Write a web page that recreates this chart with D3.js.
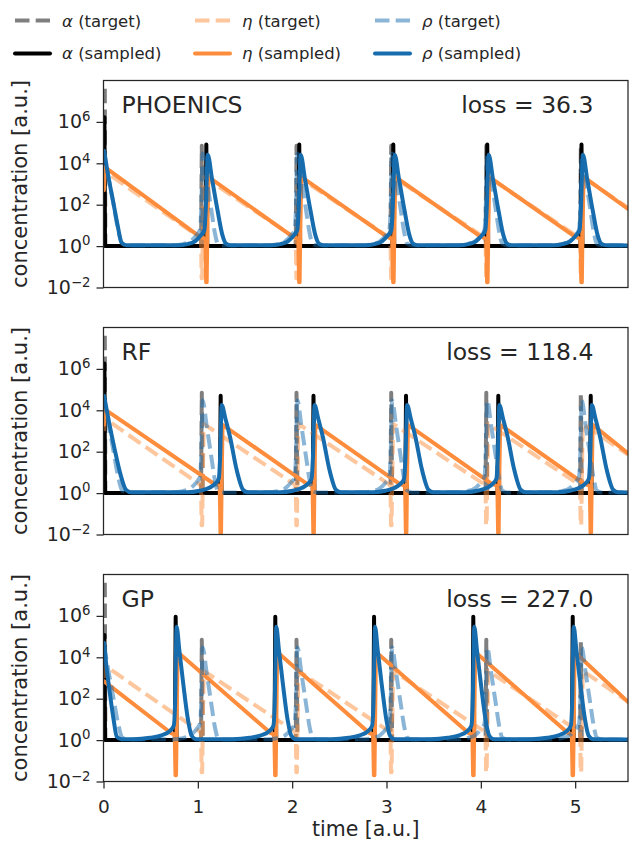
<!DOCTYPE html>
<html>
<head>
<meta charset="utf-8">
<script src="https://cdn.jsdelivr.net/npm/d3@7"></script>
<style>
  html,body{margin:0;padding:0;background:#fff;}
  svg{display:block;}
  text{font-family:"DejaVu Sans",sans-serif;fill:#262626;}
</style>
</head>
<body>
<svg id="fig" width="634" height="846"></svg>
<script>
// ---------------- data ----------------
const panelNames  = ["PHOENICS", "RF", "GP"];
const lossLabels  = ["loss = 36.3", "loss = 118.4", "loss = 227.0"];
const xTickValues = [0, 1, 2, 3, 4, 5];
const yTickValues = [1e-2, 1e0, 1e2, 1e4, 1e6];
const yTickExponents = ["\u22122", "0", "2", "4", "6"];
const timeMax = 5.56;

// spike (event) times
const targetSpikes  = [1.042, 2.046, 3.050, 4.058, 5.060];
const sampledSpikes = [
  [1.090, 2.075, 3.072, 4.068, 5.067],   // PHOENICS
  [1.242, 2.226, 3.207, 4.185, 5.165],   // RF
  [0.765, 1.821, 2.868, 3.920, 4.974]    // GP
];

// alpha  : [time or offset from spike, concentration]
const alphaTargetStart = [[0.014, 4e7], [0.02, 1]];
const alphaTargetPre   = [[-0.008, 1]];
const alphaTargetPost  = [[0, 7e4], [0.01, 1]];
const alphaTargetEnd   = 1;
const alphaSampledStart = [[[0.01, 1.7e6], [0.016, 1]], [[0.01, 1.8e6], [0.016, 1]], [[0.01, 1.2e5], [0.016, 1]]];
const alphaSampledPre   = [[[-0.008, 1]], [[-0.008, 1]], [[-0.008, 1]]];
const alphaSampledPost  = [[[0, 8e4], [0.01, 1]], [[0, 5e4], [0.01, 1]], [[0, 9e5], [0.01, 1]]];
const alphaSampledEnd   = [1, 1, 1];

// eta
const etaTargetStart = [[0.004, 1e3], [0.014, 4e3]];
const etaTargetPre   = [[-0.03, 2.8], [-0.008, 2.2], [-0.002, 0.028]];
const etaTargetPost  = [[0.004, 0.028], [0.01, 3], [0.02, 2.2e3]];
const etaTargetEnd   = 72;
const etaSampledStart = [[[0.004, 500], [0.014, 6.6e3]], [[0.004, 2e3], [0.014, 1.1e4]], [[0.004, 700], [0.014, 650]]];
const etaSampledPre = [
  [[-0.085, 3.2], [-0.01, 2.2], [-0.002, 0.018]],
  [[-0.08, 3.0], [-0.01, 2.2], [-0.002, 0.012]],
  [[-0.05, 2.2], [-0.01, 1.9], [-0.002, 0.02]]
];
const etaSampledPost = [
  [[0.004, 0.018], [0.01, 3], [0.022, 2.2e3]],
  [[0.004, 0.012], [0.01, 3], [0.02, 2e3]],
  [[0.004, 0.02], [0.01, 3], [0.02, 1.8e4]]
];
const etaSampledEnd = [63, 83, 70];

// rho
const rhoTargetStart = [[0.006, 4e4], [0.05, 2.5e3], [0.1, 150], [0.15, 8], [0.2, 1.3], [0.25, 1.08]];
const rhoTargetPre   = [[-0.3, 1.1], [-0.2, 1.25], [-0.12, 1.7], [-0.06, 3.2], [-0.02, 6], [-0.006, 60]];
const rhoTargetPost  = [[0.01, 3e4], [0.05, 2e3], [0.1, 60], [0.14, 4], [0.17, 1.3], [0.22, 1.08]];
const rhoTargetEnd   = 1.06;
const rhoSampledStart = [
  [[0.006, 4e4], [0.05, 2.5e3], [0.1, 160], [0.15, 10], [0.19, 1.5], [0.24, 1.1]],
  [[0.006, 5e4], [0.06, 2.5e3], [0.12, 120], [0.18, 8], [0.24, 1.4], [0.29, 1.1]],
  [[0.006, 5e4], [0.03, 4e3], [0.07, 150], [0.11, 8], [0.14, 1.5], [0.19, 1.1]]
];
const rhoSampledPre = [
  [[-0.3, 1.1], [-0.2, 1.25], [-0.12, 1.7], [-0.06, 3.2], [-0.02, 6], [-0.006, 60]],
  [[-0.35, 1.1], [-0.22, 1.3], [-0.12, 1.8], [-0.06, 2.8], [-0.02, 5], [-0.006, 50]],
  [[-0.45, 1.1], [-0.27, 1.3], [-0.15, 1.7], [-0.06, 2.8], [-0.02, 5], [-0.006, 60]]
];
const rhoSampledPost = [
  [[0.015, 2.6e4], [0.06, 1.8e3], [0.12, 50], [0.17, 3.5], [0.21, 1.3], [0.26, 1.1]],
  [[0.011, 1.8e4], [0.05, 4e3], [0.1, 500], [0.17, 13], [0.24, 1.4], [0.29, 1.1]],
  [[0.01, 3e5], [0.04, 2e4], [0.08, 550], [0.13, 10], [0.17, 1.6], [0.22, 1.1]]
];
const rhoSampledEnd = [1.08, 1.08, 1.08];

const legendLabels = [
  ["\u03b1", " (target)"], ["\u03b1", " (sampled)"],
  ["\u03b7", " (target)"], ["\u03b7", " (sampled)"],
  ["\u03c1", " (target)"], ["\u03c1", " (sampled)"]
];

// ---------------- drawing ----------------
const colAlpha = "#000000", colEta = "#fd8d3c", colRho = "#176cad";
const ink = "#262626";
const svg = d3.select("#fig");
const x = d3.scaleLinear().domain([0, timeMax]).range([103.5, 628]);
const panelTop = [80.5, 327.5, 574.5], panelH = 207;
const dash = "14.5,6.2";

function build(start, spikes, pre, post, endVal) {
  const pts = start.map(d => [d[0], d[1]]);
  spikes.forEach(ts => {
    pre.forEach(d => pts.push([ts + d[0], d[1]]));
    post.forEach(d => pts.push([ts + d[0], d[1]]));
  });
  pts.push([timeMax, endVal]);
  return pts;
}

panelNames.forEach((name, i) => {
  const top = panelTop[i], bot = top + panelH;
  const y = d3.scaleLog().domain([1e-2, 1e8]).range([bot, top]);
  const g = svg.append("g");
  const clipId = "clip" + i;
  svg.append("clipPath").attr("id", clipId).append("rect")
    .attr("x", x(0)).attr("y", top).attr("width", x(timeMax) - x(0)).attr("height", panelH);
  const plot = g.append("g").attr("clip-path", `url(#${clipId})`);
  const lin = d3.line().x(d => x(d[0])).y(d => y(d[1]));
  const smooth = d3.line().x(d => x(d[0])).y(d => y(d[1])).curve(d3.curveMonotoneX);

  const series = [
    {pts: build(alphaTargetStart, targetSpikes, alphaTargetPre, alphaTargetPost, alphaTargetEnd), c: colAlpha, t: true, gen: lin},
    {pts: build(alphaSampledStart[i], sampledSpikes[i], alphaSampledPre[i], alphaSampledPost[i], alphaSampledEnd[i]), c: colAlpha, t: false, gen: lin},
    {pts: build(etaTargetStart, targetSpikes, etaTargetPre, etaTargetPost, etaTargetEnd), c: colEta, t: true, gen: lin},
    {pts: build(etaSampledStart[i], sampledSpikes[i], etaSampledPre[i], etaSampledPost[i], etaSampledEnd[i]), c: colEta, t: false, gen: lin},
    {pts: build(rhoTargetStart, targetSpikes, rhoTargetPre, rhoTargetPost, rhoTargetEnd), c: colRho, t: true, gen: smooth},
    {pts: build(rhoSampledStart[i], sampledSpikes[i], rhoSampledPre[i], rhoSampledPost[i], rhoSampledEnd[i]), c: colRho, t: false, gen: smooth}
  ];
  series.forEach(s => {
    plot.append("path").attr("d", s.gen(s.pts))
      .attr("fill", "none").attr("stroke", s.c)
      .attr("stroke-opacity", s.t ? 0.5 : 1)
      .attr("stroke-width", 4)
      .attr("stroke-dasharray", s.t ? dash : null)
      .attr("stroke-linejoin", "round")
      .attr("stroke-linecap", s.t ? "butt" : "round");
  });

  // frame
  g.append("rect").attr("x", x(0)).attr("y", top)
    .attr("width", x(timeMax) - x(0)).attr("height", panelH)
    .attr("fill", "none").attr("stroke", ink).attr("stroke-width", 1.25);

  // y axis
  const ya = g.append("g").attr("transform", `translate(${x(0)},0)`)
    .call(d3.axisLeft(y).tickValues(yTickValues).tickSize(7).tickPadding(6));
  ya.attr("font-size", 19).attr("font-family", "DejaVu Sans");
  ya.select(".domain").remove();
  ya.selectAll(".tick line").attr("stroke", ink).attr("stroke-width", 1.25);
  ya.selectAll(".tick text").each(function(d, k) {
    const t = d3.select(this).text(null).attr("fill", ink);
    t.append("tspan").text("10");
    t.append("tspan").attr("dy", "-0.55em").attr("font-size", "0.7em").text(yTickExponents[k]);
  });

  // titles
  g.append("text").attr("x", 121.5).attr("y", top + 32.5).attr("font-size", 23.5).text(name);
  g.append("text").attr("x", 593.5).attr("y", top + 32.5).attr("font-size", 23.5)
    .attr("text-anchor", "end").text(lossLabels[i]);

  // y label
  g.append("text").attr("transform", `translate(27,${(top + bot) / 2}) rotate(-90)`)
    .attr("text-anchor", "middle").attr("font-size", 21).text("concentration [a.u.]");

  if (i === panelNames.length - 1) {
    const xa = g.append("g").attr("transform", `translate(0,${bot})`)
      .call(d3.axisBottom(x).tickValues(xTickValues).tickSize(7).tickPadding(11).tickFormat(d3.format("d")));
    xa.attr("font-size", 18.5).attr("font-family", "DejaVu Sans");
    xa.select(".domain").remove();
    xa.selectAll(".tick line").attr("stroke", ink).attr("stroke-width", 1.25);
    xa.selectAll(".tick text").attr("fill", ink);
    g.append("text").attr("x", (x(0) + x(timeMax)) / 2).attr("y", 836)
      .attr("text-anchor", "middle").attr("font-size", 20.5).text("time [a.u.]");
  }
});

// legend
const legendColors = [colAlpha, colAlpha, colEta, colEta, colRho, colRho];
const legCols = [15, 195, 375], legRowLine = [20.5, 53.5], legRowText = [26.5, 59];
const lg = svg.append("g");
legendLabels.forEach((lab, k) => {
  const col = Math.floor(k / 2), row = k % 2, target = row === 0;
  const x0 = legCols[col];
  lg.append("line").attr("x1", x0).attr("x2", x0 + 35)
    .attr("y1", legRowLine[row]).attr("y2", legRowLine[row])
    .attr("stroke", legendColors[k]).attr("stroke-opacity", target ? 0.5 : 1)
    .attr("stroke-width", 4).attr("stroke-dasharray", target ? dash : null)
    .attr("stroke-linecap", target ? "butt" : "round");
  const t = lg.append("text").attr("x", x0 + 47).attr("y", legRowText[row]).attr("font-size", 16.5);
  t.append("tspan").attr("font-style", "italic").text(lab[0]);
  t.append("tspan").text(lab[1]);
});
</script>
</body>
</html>
